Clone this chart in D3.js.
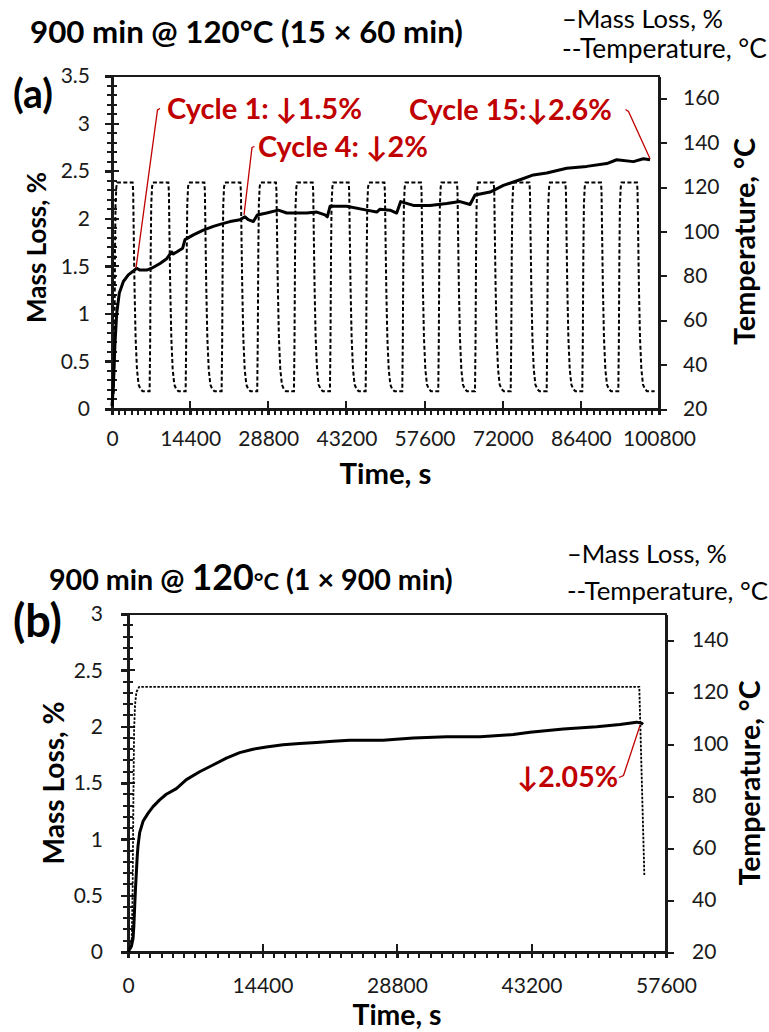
<!DOCTYPE html>
<html><head><meta charset="utf-8">
<script src="https://cdn.jsdelivr.net/npm/d3@7"></script>
<style>
body{margin:0;background:#fff}
svg{display:block}
text{font-family:Lato,'Open Sans',sans-serif}
</style>
</head><body>
<svg id="c" width="769" height="1032"></svg>
<script>
// ---------------- DATA ----------------
// Panel (a): 15 x 60 min cycles
const massA_t = [0,250,550,860,1350,2090,3010,3930,4550,5160,6390,7310,8850,10080,11000,11300,11920,13020,13450,14990,16830,18680,19900,21750,23590,24510,25100,26050,26780,28500,30650,32200,33420,35880,37720,39250,39680,40180,43250,46930,48780,49390,51240,52460,53200,55540,58610,61680,64140,65980,66900,69670,72120,75190,77650,80110,83790,87480,91170,93010,96080,97920,99150];
const massA_v = [0.03,0.24,0.69,1.0,1.22,1.34,1.41,1.45,1.48,1.46,1.46,1.48,1.53,1.58,1.65,1.63,1.65,1.69,1.78,1.83,1.88,1.92,1.94,1.97,1.99,2.02,1.99,1.97,2.04,2.06,2.09,2.06,2.06,2.06,2.07,2.04,2.02,2.13,2.13,2.09,2.07,2.10,2.09,2.06,2.18,2.14,2.14,2.16,2.18,2.15,2.25,2.28,2.35,2.41,2.46,2.48,2.53,2.55,2.58,2.62,2.60,2.63,2.62];
// start time (s) of each heating cycle, read from the rising edges
const cycleStartsA = [350,6930,13570,20200,26760,33530,40160,46740,53490,60120,66890,73470,80100,86660,93300];
// shape of one cycle: time offset (s) from cycle start, temperature (°C)
const cycleOffsetA = [0,100,200,300,450,600,3450,3550,3650,3800,4000,4250,4550,4900,5300];
const cycleTempA   = [28,50,90,112,120,122,122,118,100,75,52,38,31,29,28];
const tempA_first = [0,24];
const tempA_last  = [100000,28];
const xTicksA  = [0,14400,28800,43200,57600,72000,86400,100800];
const yLTicksA = [0,0.5,1,1.5,2,2.5,3,3.5];
const yRTicksA = [20,40,60,80,100,120,140,160];
const annA_label = ['Cycle 1: ↓1.5%','Cycle 4: ↓2%','Cycle 15:↓2.6%'];
const annA_t = [4420,24330,99150];
const annA_v = [1.48,2.04,2.63];

// Panel (b): 1 x 900 min
const massB_t = [0,360,540,620,714,800,892,980,1070,1250,1610,2140,2680,3390,4100,5180,6250,7670,9100,10530,11960,13380,14810,16600,18380,20170,21950,23730,25520,27300,29090,30550,34120,37690,41250,43040,46610,50180,52670,54460,54990,55140];
const massB_v = [0.0,0.05,0.12,0.22,0.40,0.56,0.70,0.84,0.94,1.06,1.16,1.23,1.29,1.35,1.40,1.45,1.53,1.60,1.66,1.72,1.77,1.80,1.82,1.84,1.85,1.86,1.87,1.88,1.88,1.88,1.89,1.90,1.91,1.91,1.93,1.95,1.98,2.00,2.02,2.04,2.03,2.02];
const tempB_t = [0,200,400,500,580,650,750,900,1200,54740,55280];
const tempB_v = [20.5,21,25,45,80,105,115,120,122,122,49.6];
const xTicksB  = [0,14400,28800,43200,57600];
const yLTicksB = [0,0.5,1,1.5,2,2.5,3];
const yRTicksB = [20,40,60,80,100,120,140];
const annB_label = ['↓2.05%'];
const annB_t = [54815];
const annB_v = [2.01];

// ---------------- DRAW ----------------
const svg = d3.select('#c');
svg.append('rect').attr('width',769).attr('height',1032).attr('fill','#fff');
const AX = '#1a1a1a', RED = '#C00000';

function fit(sel, w){
  const len = sel.node().getComputedTextLength();
  const fs = parseFloat(sel.style('font-size'));
  sel.style('font-size', (fs*w/len)+'px');
  return sel;
}

function panel(p){
  const g = svg.append('g');
  const x = d3.scaleLinear().domain(p.xDom).range([p.x0,p.x1]);
  const yl = d3.scaleLinear().domain(p.ylDom).range([p.y1,p.y0]);
  const yr = d3.scaleLinear().domain(p.yrDom).range([p.y1,p.y0]);

  // frame
  g.append('rect').attr('x',p.x0).attr('y',p.y0).attr('width',p.x1-p.x0).attr('height',p.y1-p.y0)
    .attr('fill','none').attr('stroke',AX).attr('stroke-width',2).attr('shape-rendering','crispEdges');

  const ticks = g.append('g').attr('stroke',AX).attr('stroke-width',2).attr('shape-rendering','crispEdges');
  // x minor ticks (below axis)
  const xmin = d3.range(p.xDom[0], p.xDom[1]+1, 1200).filter(v=>v%14400!==0);
  ticks.selectAll('line.xm').data(xmin).join('line').attr('class','xm')
    .attr('x1',d=>x(d)).attr('x2',d=>x(d)).attr('y1',p.y1).attr('y2',p.y1+6);
  // y-left minor ticks (crossing)
  const ymin = d3.range(0, Math.round(p.ylDom[1]*10)+1).map(i=>i/10).filter(v=>(Math.round(v*10)%5)!==0);
  ticks.selectAll('line.ym').data(ymin).join('line').attr('class','ym')
    .attr('x1',p.x0-5).attr('x2',p.x0+5).attr('y1',d=>yl(d)).attr('y2',d=>yl(d));
  // major crossing parts
  ticks.selectAll('line.xM').data(p.xTicks).join('line').attr('class','xM')
    .attr('x1',d=>x(d)).attr('x2',d=>x(d)).attr('y1',p.y1-8).attr('y2',p.y1+6);
  ticks.selectAll('line.yM').data(p.ylTicks).join('line').attr('class','yM')
    .attr('x1',p.x0-7).attr('x2',p.x0+7).attr('y1',d=>yl(d)).attr('y2',d=>yl(d));

  // axes (labels + right ticks)
  const gx = g.append('g').attr('transform',`translate(0,${p.y1})`)
    .call(d3.axisBottom(x).tickValues(p.xTicks).tickSize(6).tickSizeOuter(0).tickPadding(p.xPad).tickFormat(d3.format('d')));
  const gyl = g.append('g').attr('transform',`translate(${p.x0},0)`)
    .call(d3.axisLeft(yl).tickValues(p.ylTicks).tickSize(7).tickSizeOuter(0).tickPadding(p.ylPad).tickFormat(d=>String(d)));
  const gyr = g.append('g').attr('transform',`translate(${p.x1},0)`)
    .call(d3.axisRight(yr).tickValues(p.yrTicks).tickSize(8).tickSizeOuter(0).tickPadding(p.yrPad));
  [gx,gyl,gyr].forEach(a=>{
    a.select('.domain').attr('stroke',AX).attr('stroke-width',2).attr('shape-rendering','crispEdges');
    a.selectAll('.tick line').attr('stroke',AX).attr('stroke-width',2).attr('shape-rendering','crispEdges');
    a.selectAll('.tick text').attr('fill','#1a1a1a').style('font-size','21px').style('font-family','Lato,sans-serif');
  });

  // temperature (dashed)
  g.append('path').datum(p.temp)
    .attr('d', d3.line().x(d=>x(d[0])).y(d=>yr(d[1])))
    .attr('fill','none').attr('stroke','#000').attr('stroke-width',p.dashW).attr('stroke-dasharray',p.dash);
  // mass loss
  g.append('path').datum(p.mass)
    .attr('d', d3.line().x(d=>x(d[0])).y(d=>yl(d[1])))
    .attr('fill','none').attr('stroke','#000').attr('stroke-width',3).attr('stroke-linejoin','round');

  // annotations
  p.ann.forEach(a=>{
    const px = x(a.t), py = yl(a.v);
    g.append('path').attr('d', d3.line()([a.hook[0], a.hook[1], [px,py]]))
      .attr('fill','none').attr('stroke',RED).attr('stroke-width',1.3);
    const t = g.append('text').attr('x',a.tx).attr('y',a.ty).attr('fill',RED)
      .style('font-weight','bold').style('font-size','24px').text(a.label);
    fit(t, a.w);
  });

  // axis titles
  fit(g.append('text').attr('transform',`translate(${p.ylabX},${(p.y0+p.y1)/2+p.ylabDy}) rotate(-90)`)
    .attr('text-anchor','middle').attr('dy','0.35em').style('font-weight','bold').style('font-size','26px')
    .text('Mass Loss, %'), p.ylabW);
  fit(g.append('text').attr('transform',`translate(${p.yrlabX},${(p.y0+p.y1)/2+p.yrlabDy}) rotate(-90)`)
    .attr('text-anchor','middle').attr('dy','0.35em').style('font-weight','bold').style('font-size','26px')
    .text('Temperature, °C'), p.yrlabW);
  fit(g.append('text').attr('x',(p.x0+p.x1)/2).attr('y',p.xlabY).attr('text-anchor','middle')
    .style('font-weight','bold').style('font-size','26px').text('Time, s'), p.xlabW);

  // legend
  fit(g.append('text').attr('x',p.legX).attr('y',p.legY1).style('font-size','22px').text('\u2013Mass Loss, %'), p.legW1);
  fit(g.append('text').attr('x',p.legX).attr('y',p.legY2).style('font-size','22px').text('--Temperature, °C'), p.legW2);

  // panel letter
  fit(g.append('text').attr('x',13).attr('y',p.letY).style('font-weight','bold').style('font-size','36px').text(p.letter), p.letW);
  return g;
}

// build temperature series (a)
const tempA = [tempA_first];
cycleStartsA.forEach(s=>cycleOffsetA.forEach((o,i)=>tempA.push([s+o, cycleTempA[i]])));
tempA.push(tempA_last);

panel({
  x0:112,x1:659,y0:76,y1:409,
  xDom:[0,100800], ylDom:[0,3.5], yrDom:[20,170],
  xTicks:xTicksA, ylTicks:yLTicksA, yrTicks:yRTicksA,
  xPad:16, ylPad:15, yrPad:16,
  temp:tempA, mass:massA_t.map((t,i)=>[t,massA_v[i]]), dash:'4,2.4', dashW:2,
  ann:[
    {label:annA_label[0],t:annA_t[0],v:annA_v[0],tx:167,ty:119,w:195,hook:[[160,108.5],[157.5,110]]},
    {label:annA_label[1],t:annA_t[1],v:annA_v[1],tx:258,ty:157,w:170,hook:[[254.5,146.5],[252,147.5]]},
    {label:annA_label[2],t:annA_t[2],v:annA_v[2],tx:409,ty:120,w:203,hook:[[625.5,109.5],[628.5,111.5]]}
  ],
  ylabX:37, ylabDy:5, ylabW:151, yrlabX:745, yrlabDy:-1, yrlabW:207,
  xlabY:484, xlabW:92,
  legX:562, legY1:28, legY2:58, legW1:161, legW2:205,
  letter:'(a)', letY:108, letW:40
});
fit(svg.append('text').attr('x',30).attr('y',43).style('font-weight','bold').style('font-size','29px')
  .text('900 min @ 120°C (15 × 60 min)'), 433);

panel({
  x0:128,x1:666,y0:614,y1:952,
  xDom:[0,57600], ylDom:[0,3], yrDom:[20,150],
  xTicks:xTicksB, ylTicks:yLTicksB, yrTicks:yRTicksB,
  xPad:20, ylPad:18, yrPad:18,
  temp:tempB_t.map((t,i)=>[t,tempB_v[i]]), mass:massB_t.map((t,i)=>[t,massB_v[i]]), dash:'2.5,1.5', dashW:1.8,
  ann:[
    {label:annB_label[0],t:annB_t[0],v:annB_v[0],tx:517,ty:787,w:101,hook:[[619,777.5],[623.5,775.5]]}
  ],
  ylabX:54, ylabDy:0, ylabW:163, yrlabX:750, yrlabDy:0, yrlabW:205,
  xlabY:1025, xlabW:89,
  legX:567, legY1:563, legY2:600, legW1:160, legW2:201,
  letter:'(b)', letY:637, letW:49
});
const tb = svg.append('text').attr('x',49).attr('y',590).style('font-weight','bold').style('font-size','28px');
tb.append('tspan').text('900 min @ ');
tb.append('tspan').style('font-size','1.25em').text('120');
tb.append('tspan').style('font-size','0.82em').text('°C');
tb.append('tspan').text(' (1 × 900 min)');
fit(tb, 404);
</script>
</body></html>
